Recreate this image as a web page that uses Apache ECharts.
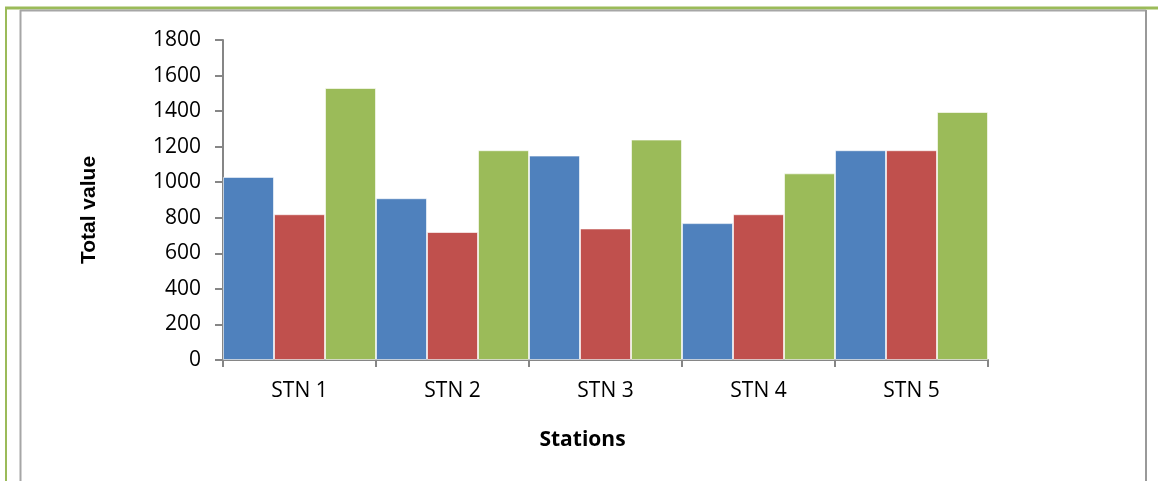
<!DOCTYPE html>
<html>
<head>
<meta charset="utf-8">
<script src="https://cdn.jsdelivr.net/npm/echarts@6/dist/echarts.min.js"></script>
<style>
html,body{margin:0;padding:0;background:#fff;}
#c{width:1158px;height:481px;}
</style>
</head>
<body>
<div id="c"></div>
<script>
const categories = ['STN 1', 'STN 2', 'STN 3', 'STN 4', 'STN 5'];
const seriesA = [1030, 910, 1150, 770, 1180];
const seriesB = [820, 720, 740, 820, 1180];
const seriesC = [1530, 1180, 1240, 1050, 1395];
const yTicks = { min: 0, max: 1800, interval: 200 };

const chart = echarts.init(document.getElementById('c'), null, { renderer: 'canvas' });
const font = '"Open Sans", "Liberation Sans", sans-serif';
const barStyle = (color) => ({
  type: 'bar',
  barGap: '0%',
  barCategoryGap: '0%',
  itemStyle: { color: color, borderColor: 'rgba(255,255,255,0.6)', borderWidth: 1 },
  emphasis: { disabled: true },
  animation: false
});
chart.setOption({
  animation: false,
  grid: { left: 223, right: 170, top: 40, bottom: 121, containLabel: false },
  graphic: [
    { type: 'line', shape: { x1: 5, y1: 8, x2: 1158, y2: 8 }, style: { stroke: '#9BBB59', lineWidth: 3 } },
    { type: 'line', shape: { x1: 6, y1: 8, x2: 6, y2: 481 }, style: { stroke: '#9BBB59', lineWidth: 2 } },
    { type: 'line', shape: { x1: 20, y1: 10.5, x2: 1146, y2: 10.5 }, style: { stroke: '#A6A6A6', lineWidth: 2 } },
    { type: 'line', shape: { x1: 20.5, y1: 10, x2: 20.5, y2: 481 }, style: { stroke: '#A6A6A6', lineWidth: 2 } },
    { type: 'line', shape: { x1: 1146, y1: 10, x2: 1146, y2: 481 }, style: { stroke: '#999999', lineWidth: 2 } }
  ],
  xAxis: {
    type: 'category',
    data: categories,
    name: 'Stations',
    nameLocation: 'middle',
    nameGap: 70,
    nameTextStyle: { fontFamily: font, fontSize: 21, fontWeight: 'bold', color: '#000', padding: [0, 46, 0, 0] },
    axisLine: { lineStyle: { color: '#868686', width: 2 } },
    axisTick: { show: true, length: 7, inside: false, lineStyle: { color: '#868686', width: 2 } },
    axisLabel: { fontFamily: font, fontSize: 21, color: '#000', margin: 21 },
    splitLine: { show: false }
  },
  yAxis: {
    type: 'value',
    min: yTicks.min,
    max: yTicks.max,
    interval: yTicks.interval,
    name: 'Total value',
    nameLocation: 'middle',
    nameGap: 123,
    nameTextStyle: { fontFamily: '"Liberation Sans", Arial, sans-serif', fontSize: 21, fontWeight: 'bold', color: '#000', padding: [0, 20, 0, 0] },
    axisLine: { show: true, lineStyle: { color: '#868686', width: 2 } },
    axisTick: { show: true, length: 8, lineStyle: { color: '#868686', width: 2 } },
    axisLabel: { fontFamily: font, fontSize: 21, color: '#000', margin: 22, formatter: (v) => String(v) },
    splitLine: { show: false }
  },
  series: [
    Object.assign(barStyle('#4F81BD'), { name: 'A', data: seriesA }),
    Object.assign(barStyle('#C0504D'), { name: 'B', data: seriesB }),
    Object.assign(barStyle('#9BBB59'), { name: 'C', data: seriesC })
  ]
});
</script>
</body>
</html>
